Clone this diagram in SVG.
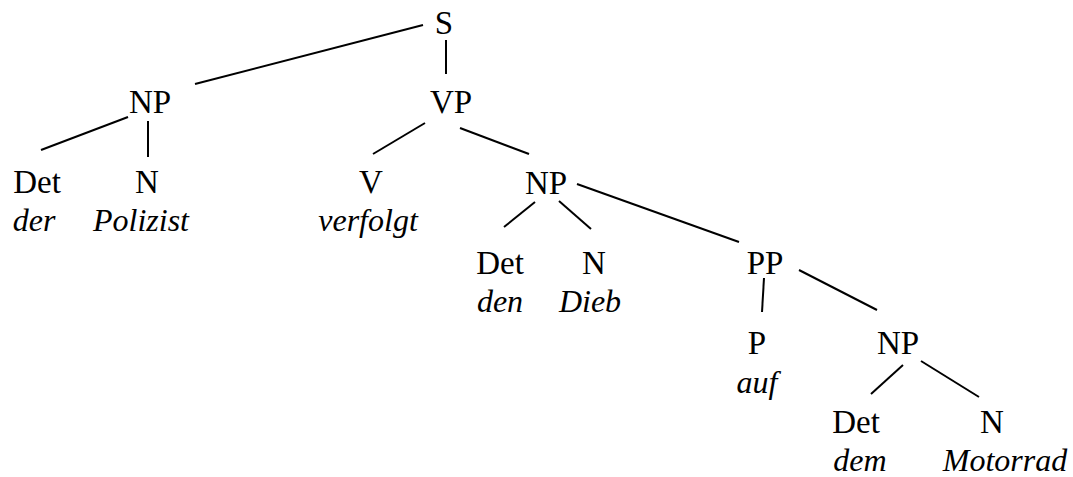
<svg xmlns="http://www.w3.org/2000/svg" width="1073" height="477" viewBox="0 0 1073 477">
<style>
text{font-family:"Liberation Serif","Times New Roman",serif;font-size:33px;fill:#000;text-anchor:middle}
.w{font-style:italic;font-size:32px}
#edges line{stroke:#000;stroke-width:2}
</style>
<rect width="1073" height="477" fill="#fff"/>
<g id="edges">
<line x1="423" y1="25" x2="195" y2="84"/>
<line x1="446" y1="40" x2="446" y2="74"/>
<line x1="128" y1="117" x2="41" y2="150"/>
<line x1="148" y1="121" x2="148" y2="157"/>
<line x1="425" y1="123" x2="373" y2="154"/>
<line x1="460" y1="128" x2="529" y2="154"/>
<line x1="535" y1="202" x2="504" y2="227"/>
<line x1="559" y1="201" x2="591" y2="229"/>
<line x1="577" y1="184" x2="739" y2="242"/>
<line x1="764" y1="278" x2="762" y2="312"/>
<line x1="799" y1="270" x2="877" y2="310"/>
<line x1="903" y1="365" x2="871" y2="394"/>
<line x1="921" y1="361" x2="979" y2="397"/>
</g>
<g id="S"><text x="444" y="34">S</text></g>
<g id="NP1"><text x="150" y="113">NP</text></g>
<g id="VP"><text x="451" y="113">VP</text></g>
<g id="Det1"><text x="37" y="193">Det</text><text class="w" x="34" y="231">der</text></g>
<g id="N1"><text x="147" y="193">N</text><text class="w" x="141" y="231">Polizist</text></g>
<g id="V"><text x="371" y="193">V</text><text class="w" x="368" y="231">verfolgt</text></g>
<g id="NP2"><text x="546" y="194">NP</text></g>
<g id="Det2"><text x="500" y="274">Det</text><text class="w" x="500" y="312">den</text></g>
<g id="N2"><text x="594" y="274">N</text><text class="w" x="590" y="312">Dieb</text></g>
<g id="PP"><text x="765" y="274">PP</text></g>
<g id="P"><text x="757" y="354">P</text><text class="w" x="757" y="393">auf</text></g>
<g id="NP3"><text x="898" y="354">NP</text></g>
<g id="Det3"><text x="856" y="433">Det</text><text class="w" x="860" y="471">dem</text></g>
<g id="N3"><text x="992" y="433">N</text><text class="w" x="1005" y="471">Motorrad</text></g>
</svg>
